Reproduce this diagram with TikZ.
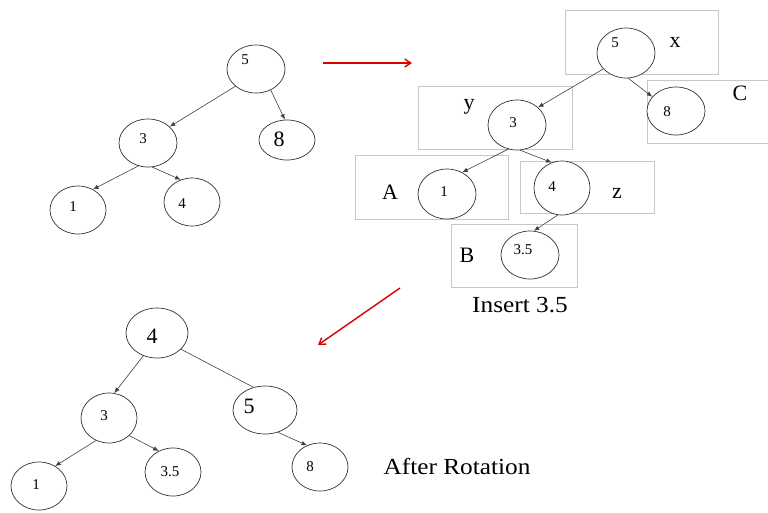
\documentclass[tikz,border=0pt]{standalone}
\usepackage{fontspec}
\setmainfont{Liberation Serif}
\newfontfamily\widefont[FakeStretch=1.1]{Liberation Serif}
\usetikzlibrary{shapes.geometric,arrows.meta}
\tikzset{
  tn/.style={ellipse,draw=black!80,line width=0.7pt,fill=white,inner sep=0pt},
  sbox/.style={draw=black!22,line width=0.8pt,fill=white,inner sep=0pt},
  ls/.style={font=\fontsize{15}{18}\selectfont,inner sep=0pt},
  lb/.style={font=\fontsize{22}{26}\selectfont,inner sep=0pt},
  lw/.style={font=\widefont\fontsize{23}{27}\selectfont,inner sep=0pt},
  edge/.style={draw=black!75,line width=0.6pt,-{Latex[length=5.5pt,width=4.5pt]}},
  pedge/.style={draw=black!75,line width=0.6pt},
  redarr/.style={draw=red!85!black,line width=1.4pt,-{Straight Barb[length=6pt,width=8pt]}}
}
\begin{document}
\begin{tikzpicture}[x=1pt,y=-1pt]
\useasboundingbox (0,0) rectangle (768,512);
% ---------- top-left tree ----------
\node[tn,minimum width=58pt,minimum height=48pt] (a5) at (256,69) {};
\node[tn,minimum width=58pt,minimum height=48pt] (a3) at (148,143) {};
\node[tn,minimum width=56pt,minimum height=40pt] (a8) at (287,140) {};
\node[tn,minimum width=56pt,minimum height=48pt] (a1) at (78,210) {};
\node[tn,minimum width=56pt,minimum height=48pt] (a4) at (192,202) {};
\node[ls] (ta5) at (245,60) {5};
\node[ls] (ta3) at (143,139) {3};
\node[lb] (ta8) at (279,139) {8};
\node[ls] (ta1) at (73,207) {1};
\node[ls] (ta4) at (182,204) {4};
\draw[edge] (a5.220) -- (a3.37);
\draw[edge] (a5.305) -- (a8.96);
\draw[edge] (a3.247) -- (a1.54);
\draw[edge] (a3.280) -- (a4.117);
% ---------- red arrows ----------
\coordinate (r1s) at (323,63);
\coordinate (r1e) at (412,63);
\draw[redarr] (r1s) -- (r1e);
\coordinate (r2s) at (400,288);
\coordinate (r2e) at (318,345);
\draw[redarr] (r2s) -- (r2e);
% ---------- top-right tree with boxes ----------
\node[sbox,minimum width=153pt,minimum height=64pt] (bx) at (641.5,42) {};
\node[sbox,minimum width=126pt,minimum height=63pt] (bc) at (710,111.5) {};
\node[sbox,minimum width=154pt,minimum height=63pt] (by) at (495,117.5) {};
\node[sbox,minimum width=153pt,minimum height=64pt] (ba) at (431.5,187) {};
\node[sbox,minimum width=134pt,minimum height=52pt] (bz) at (587,187) {};
\node[sbox,minimum width=126pt,minimum height=63pt] (bb) at (514,255.5) {};
\node[tn,minimum width=58pt,minimum height=50pt] (b5) at (626,53) {};
\node[tn,minimum width=58pt,minimum height=48pt] (b8) at (676,111) {};
\node[tn,minimum width=58pt,minimum height=50pt] (b3) at (517,125) {};
\node[tn,minimum width=58pt,minimum height=50pt] (b1) at (447,194) {};
\node[tn,minimum width=56pt,minimum height=54pt] (b4) at (562,188) {};
\node[tn,minimum width=58pt,minimum height=48pt] (b35) at (530,255) {};
\node[ls] (tb5) at (615,43) {5};
\node[lb] (tbx) at (675,42) {x};
\node[ls] (tb8) at (667,112) {8};
\node[lb] (tbc) at (740,93) {C};
\node[lb] (tby) at (469,107) {y};
\node[ls] (tb3) at (513,123) {3};
\node[lb] (tba) at (390,192) {A};
\node[ls] (tb1) at (444,192) {1};
\node[ls] (tb4) at (552,187) {4};
\node[lb] (tbz) at (617,193) {z};
\node[lb] (tbb) at (467,255) {B};
\node[ls] (tb35) at (523,250) {3.5};
\node[lw] (ins) at (520,305) {Insert 3.5};
\draw[edge] (b5.215) -- (b3.40);
\draw[edge] (b5.275) -- (b8.149);
\draw[edge] (b3.250) -- (b1.55);
\draw[edge] (b3.277) -- (b4.112);
\draw[edge] (b4.261) -- (b35.81);
% ---------- bottom tree ----------
\node[tn,minimum width=62pt,minimum height=50pt] (c4) at (157,333) {};
\node[tn,minimum width=56pt,minimum height=50pt] (c3) at (109,418) {};
\node[tn,minimum width=64pt,minimum height=48pt] (c5) at (265,410) {};
\node[tn,minimum width=56pt,minimum height=48pt] (c1) at (39,486) {};
\node[tn,minimum width=56pt,minimum height=48pt] (c35) at (173,472) {};
\node[tn,minimum width=56pt,minimum height=48pt] (c8) at (320,467) {};
\node[lb] (tc4) at (152,336) {4};
\node[ls] (tc3) at (104,416) {3};
\node[lb] (tc5) at (249,406) {5};
\node[ls] (tc1) at (36,485) {1};
\node[ls] (tc35) at (170,472) {3.5};
\node[ls] (tc8) at (310,467) {8};
\node[lw] (after) at (457,467) {After Rotation};
\draw[edge] (c4.239) -- (c3.78);
\draw[pedge] (c4.326) -- (c5.117);
\draw[edge] (c3.240) -- (c1.51);
\draw[edge] (c3.319) -- (c35.124);
\draw[edge] (c5.300) -- (c8.121);
\end{tikzpicture}
\end{document}
